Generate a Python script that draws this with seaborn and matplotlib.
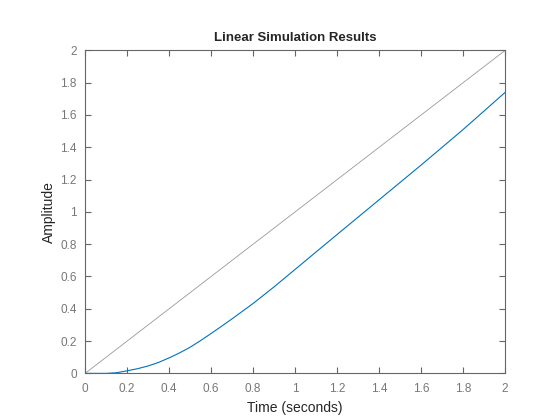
import numpy as np
import pandas as pd
import seaborn as sns
import matplotlib
matplotlib.use("Agg")
import matplotlib.pyplot as plt

# Dados (resposta a rampa)
tempo = [0, 0.1, 0.15, 0.2, 0.25, 0.3, 0.35, 0.4, 0.45, 0.5, 0.55, 0.6, 0.65, 0.7,
         0.8, 0.9, 1.0, 1.2, 1.4, 1.6, 1.8, 2.0]
saida = [0, 0, 0.004, 0.016, 0.029, 0.046, 0.068, 0.096, 0.127, 0.162, 0.203, 0.247,
         0.292, 0.338, 0.433, 0.536, 0.644, 0.86, 1.075, 1.29, 1.51, 1.74]
entrada_t = [0, 2.0]
entrada = [0, 2.0]

df = pd.DataFrame({"t": tempo, "y": saida})
df_in = pd.DataFrame({"t": entrada_t, "u": entrada})

sns.set_style("white")
plt.rcParams['font.family'] = ['Liberation Sans', 'DejaVu Sans']

fig = plt.figure(figsize=(5.6, 4.2), dpi=100)
ax = fig.add_axes([0.152, 0.111, 0.75, 0.769])

sns.lineplot(data=df_in, x="t", y="u", ax=ax, color="#999999", linewidth=0.6)
sns.lineplot(data=df, x="t", y="y", ax=ax, color="#0072bd", linewidth=0.8)

ax.set_xlim(0, 2)
ax.set_ylim(0, 2)
ax.set_xticks(np.arange(0, 2.01, 0.2))
ax.set_yticks(np.arange(0, 2.01, 0.2))
ax.set_xticklabels(["0", "0.2", "0.4", "0.6", "0.8", "1", "1.2", "1.4", "1.6", "1.8", "2"])
ax.set_yticklabels(["0", "0.2", "0.4", "0.6", "0.8", "1", "1.2", "1.4", "1.6", "1.8", "2"])

for s in ax.spines.values():
    s.set_color("#666666")
    s.set_linewidth(0.8)
ax.tick_params(direction="in", length=4, width=0.8, color="#666666",
               labelcolor="#777777", labelsize=8.5,
               top=True, right=True, bottom=True, left=True)
ax.tick_params(axis="x", pad=7)
ax.tick_params(axis="y", pad=6)

ax.set_title("Linear Simulation Results", fontsize=9.5, fontweight="bold", pad=7)
ax.set_xlabel("Time (seconds)", fontsize=10, labelpad=4)
ax.set_ylabel("Amplitude", fontsize=10, labelpad=3)

fig.savefig("out.png", dpi=100)
